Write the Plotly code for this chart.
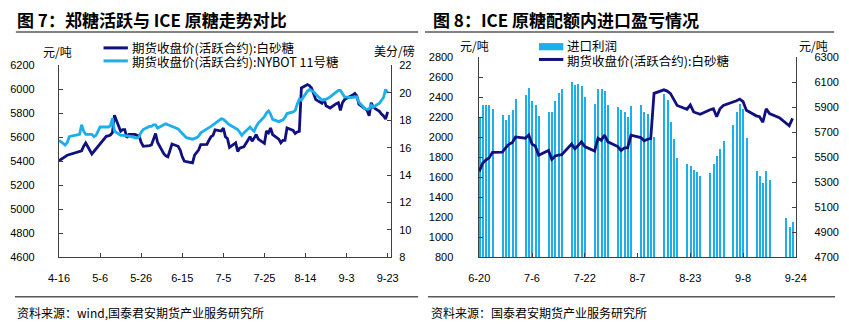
import pandas as pd
import plotly.graph_objects as go

# ---------------- data ----------------
# left chart dates: 4-16, then trading days (weekdays) 4-18 .. 9-23
trade_dates = pd.DatetimeIndex([pd.Timestamp("2022-04-16")]).append(
    pd.bdate_range("2022-04-18", "2022-09-23"))

# ZCE white sugar active contract close (CNY/t)
zce_close = [
    5405,
    5432, 5440, 5451, 5456, 5467,
    5480, 5483, 5488, 5526, 5553,
    5462, 5483, 5505, 5523, 5545,
    5609, 5612, 5620, 5640, 5785,
    5652, 5665, 5665, 5598, 5625,
    5625, 5617, 5612, 5558, 5526,
    5531, 5537, 5585, 5633, 5558,
    5464, 5446, 5438, 5491, 5545,
    5526, 5494, 5438, 5403, 5397,
    5388, 5452, 5478, 5496, 5540,
    5542, 5576, 5606, 5617, 5663,
    5653, 5678, 5606, 5591, 5517,
    5555, 5483, 5511, 5517, 5522,
    5606, 5568, 5594, 5624, 5586,
    5550, 5653, 5637, 5678, 5624,
    5586, 5555, 5576, 5576, 5678,
    5658, 5632, 5645, 5650, 6012,
    6040, 6030, 6010, 5960, 5915,
    5885, 5920, 5863, 5855, 5845,
    5881, 5889, 5825, 5889, 5915,
    5940, 5953, 5966, 5945, 5876,
    5832, 5825, 5781, 5889, 5850,
    5817, 5794, 5778, 5753, 5812,
]

# ICE (NYBOT) No.11 sugar active contract close (US cents/lb)
ice_close = [
    16.54,
    16.27, 16.19, 16.38, 16.80, 16.85,
    16.94, 16.97, 17.67, 17.20, 16.97,
    16.97, 16.80, 16.90, 17.20, 17.51,
    17.51, 17.51, 17.60, 18.14, 17.20,
    16.90, 16.90, 16.90, 16.85, 16.85,
    16.73, 16.71, 16.80, 17.13, 17.32,
    17.55, 17.55, 17.67, 17.67, 17.43,
    17.67, 17.74, 17.67, 17.60, 17.55,
    17.37, 17.20, 17.04, 16.85, 16.73,
    16.62, 16.66, 16.73, 16.85, 17.08,
    17.37, 17.44, 17.55, 17.67, 17.79,
    18.11, 18.07, 17.90, 17.79, 17.67,
    17.44, 17.32, 17.13, 16.90, 17.08,
    17.51, 17.32, 17.20, 17.55, 17.79,
    18.26, 18.54, 18.68, 18.44, 18.07,
    17.90, 17.97, 18.02, 18.21, 18.49,
    18.61, 18.72, 19.19, 19.54, 19.47,
    20.13, 20.25, 20.18, 20.08, 19.90,
    19.47, 19.47, 19.52, 19.61, 19.71,
    20.08, 20.18, 20.18, 19.90, 19.71,
    19.66, 19.66, 19.71, 19.71, 19.31,
    18.84, 18.80, 18.84, 19.10, 18.95,
    19.24, 19.43, 19.66, 20.25, 20.00,
]

# in-quota import profit of ICE raw sugar (CNY/t)
profit_dates = list(pd.bdate_range("2022-06-20", "2022-09-16")) + list(
    pd.to_datetime(["2022-09-21", "2022-09-22", "2022-09-23"]))
import_profit = [
    2187, 2322, 2322, 2316, 2277,
    2219, 2168, 2219, 2274, 2377,
    2423, 2494, 2358, 2316, 2213,
    2248, 2248, 2365, 2445, 2484,
    2548, 2516, 2529, 2510, 2397,
    2329, 2484, 2484, 2458, 2322,
    2300, 2271, 2252, 2200, 2306,
    2316, 2252, 2235, 1990, 2000,
    2429, 2374, 2155, 1977, 1794,
    1729, 1710, 1671, 1652, 1606,
    1639, 1735, 1806, 1877, 1961,
    2123, 2252, 2332, 2277, 1994,
    1661, 1613, 1542, 1665, 1568,
    1187, 1097, 1155,
]
right_start = "2022-06-20"

left_ticks = ["2022-04-16", "2022-05-06", "2022-05-26", "2022-06-15", "2022-07-05",
              "2022-07-25", "2022-08-14", "2022-09-03", "2022-09-23"]
left_ticktext = ["4-16", "5-6", "5-26", "6-15", "7-5", "7-25", "8-14", "9-3", "9-23"]
right_ticks = ["2022-06-20", "2022-07-06", "2022-07-22", "2022-08-07", "2022-08-23",
               "2022-09-08", "2022-09-24"]
right_ticktext = ["6-20", "7-6", "7-22", "8-7", "8-23", "9-8", "9-24"]

# ---------------- style ----------------
W, H = 849, 325
NAVY = "#10107E"
LIGHT = "#1CAFEC"
AXIS = "#404040"
CJK = "Noto Sans CJK SC"
NUM = "Liberation Sans"


def px(x):
    return x / W


def py(y):
    return 1 - y / H


fig = go.Figure()

# left chart
fig.add_trace(go.Scatter(x=trade_dates, y=ice_close, xaxis="x", yaxis="y2", mode="lines",
                         line=dict(color=LIGHT, width=2.8), name="期货收盘价(活跃合约):NYBOT 11号糖"))
fig.add_trace(go.Scatter(x=trade_dates, y=zce_close, xaxis="x", yaxis="y", mode="lines",
                         line=dict(color=NAVY, width=2.8), name="期货收盘价(活跃合约):白砂糖"))

# right chart
mask = trade_dates >= pd.Timestamp(right_start)
fig.add_trace(go.Bar(x=profit_dates, y=import_profit, xaxis="x2", yaxis="y3",
                     marker=dict(color=LIGHT, line=dict(width=0)), width=0.4 * 86400000,
                     name="进口利润"))
fig.add_trace(go.Scatter(x=trade_dates[mask], y=[v for v, m in zip(zce_close, mask) if m],
                         xaxis="x2", yaxis="y4", mode="lines",
                         line=dict(color=NAVY, width=2.8), name="期货收盘价(活跃合约):白砂糖"))

tickfont = dict(family=NUM, size=11, color="#000000")
common_axis = dict(showline=True, linecolor=AXIS, linewidth=1.2, ticks="inside", ticklen=4,
                   tickcolor=AXIS, tickwidth=1, showgrid=False, zeroline=False, tickfont=tickfont,
                   fixedrange=True)

fig.update_layout(
    width=W, height=H, margin=dict(l=0, r=0, t=0, b=0),
    paper_bgcolor="white", plot_bgcolor="white", showlegend=False, bargap=0,
    xaxis=dict(domain=[px(49.3), px(390)], anchor="y", type="date",
               range=["2022-04-16", "2022-09-24 14:00"], tickmode="array",
               tickvals=left_ticks, ticktext=left_ticktext, ticklabelstandoff=10, **common_axis),
    yaxis=dict(domain=[py(261), py(61.7)], anchor="x", range=[4600, 6200], dtick=200,
               tick0=4600, ticklabelstandoff=21, **common_axis),
    yaxis2=dict(overlaying="y", side="right", anchor="x", range=[8, 22], dtick=2, tick0=8,
                ticklabelstandoff=5, **common_axis),
    xaxis2=dict(domain=[px(480), px(806)], anchor="y3", type="date",
                range=["2022-06-19 19:00", "2022-09-24 02:00"], tickmode="array",
                tickvals=right_ticks, ticktext=right_ticktext, ticklabelstandoff=10, **common_axis),
    yaxis3=dict(domain=[py(261), py(53.3)], anchor="x2", range=[800, 2800], dtick=200,
                tick0=800, ticklabelstandoff=22, **common_axis),
    yaxis4=dict(overlaying="y3", side="right", anchor="x2", range=[4700, 6300], dtick=200,
                tick0=4700, ticklabelstandoff=15, **common_axis),
)

shapes = []
# title rules and bottom rules
for x0, x1 in [(5, 418), (425, 845)]:
    shapes.append(dict(type="line", xref="paper", yref="paper", x0=px(x0), x1=px(x1),
                       y0=py(27), y1=py(27), line=dict(color="#595959", width=1.5)))
for x0, x1 in [(4, 418), (428, 846)]:
    shapes.append(dict(type="line", xref="paper", yref="paper", x0=px(x0), x1=px(x1),
                       y0=py(302), y1=py(302), line=dict(color="#595959", width=1.5)))
# legend swatches
shapes.append(dict(type="line", xref="paper", yref="paper", x0=px(95), x1=px(120),
                   y0=py(43.5), y1=py(43.5), line=dict(color=NAVY, width=3)))
shapes.append(dict(type="line", xref="paper", yref="paper", x0=px(95), x1=px(120),
                   y0=py(57), y1=py(57), line=dict(color=LIGHT, width=3)))
shapes.append(dict(type="rect", xref="paper", yref="paper", x0=px(542), x1=px(567),
                   y0=py(46), y1=py(38.5), fillcolor=LIGHT, line=dict(width=0)))
shapes.append(dict(type="line", xref="paper", yref="paper", x0=px(542), x1=px(567),
                   y0=py(55.5), y1=py(55.5), line=dict(color=NAVY, width=3)))
fig.update_layout(shapes=shapes)


def ann(text, x, y, size=12.5, xanchor="left", bold=False, family=CJK):
    t = f"<b>{text}</b>" if bold else text
    return dict(text=t, x=px(x), y=py(y), xref="paper", yref="paper", showarrow=False,
                xanchor=xanchor, yanchor="middle", borderpad=0,
                font=dict(family=family, size=size, color="#000"))


annotations = [
    ann("图 7：郑糖活跃与 ICE 原糖走势对比", 5, 14, size=17, bold=True),
    ann("图 8：ICE 原糖配额内进口盈亏情况", 432, 14, size=17, bold=True),
    ann("元/吨", 48, 47, size=12, xanchor="center"),
    ann("美分/磅", 394, 46.5, size=12, xanchor="center"),
    ann("元/吨", 476, 41, size=12, xanchor="center"),
    ann("元/吨", 824, 40.5, size=12, xanchor="center"),
    ann("期货收盘价(活跃合约):白砂糖", 123, 43, size=12.5),
    ann("期货收盘价(活跃合约):NYBOT 11号糖", 123, 57.5, size=12.5),
    ann("进口利润", 570, 41.5, size=12.5),
    ann("期货收盘价(活跃合约):白砂糖", 570, 56.5, size=12.5),
    ann("资料来源：wind,国泰君安期货产业服务研究所", 5, 318, size=12),
    ann("资料来源：国泰君安期货产业服务研究所", 430, 318, size=12),
]
fig.update_layout(annotations=annotations)

fig.write_html("out.html")
